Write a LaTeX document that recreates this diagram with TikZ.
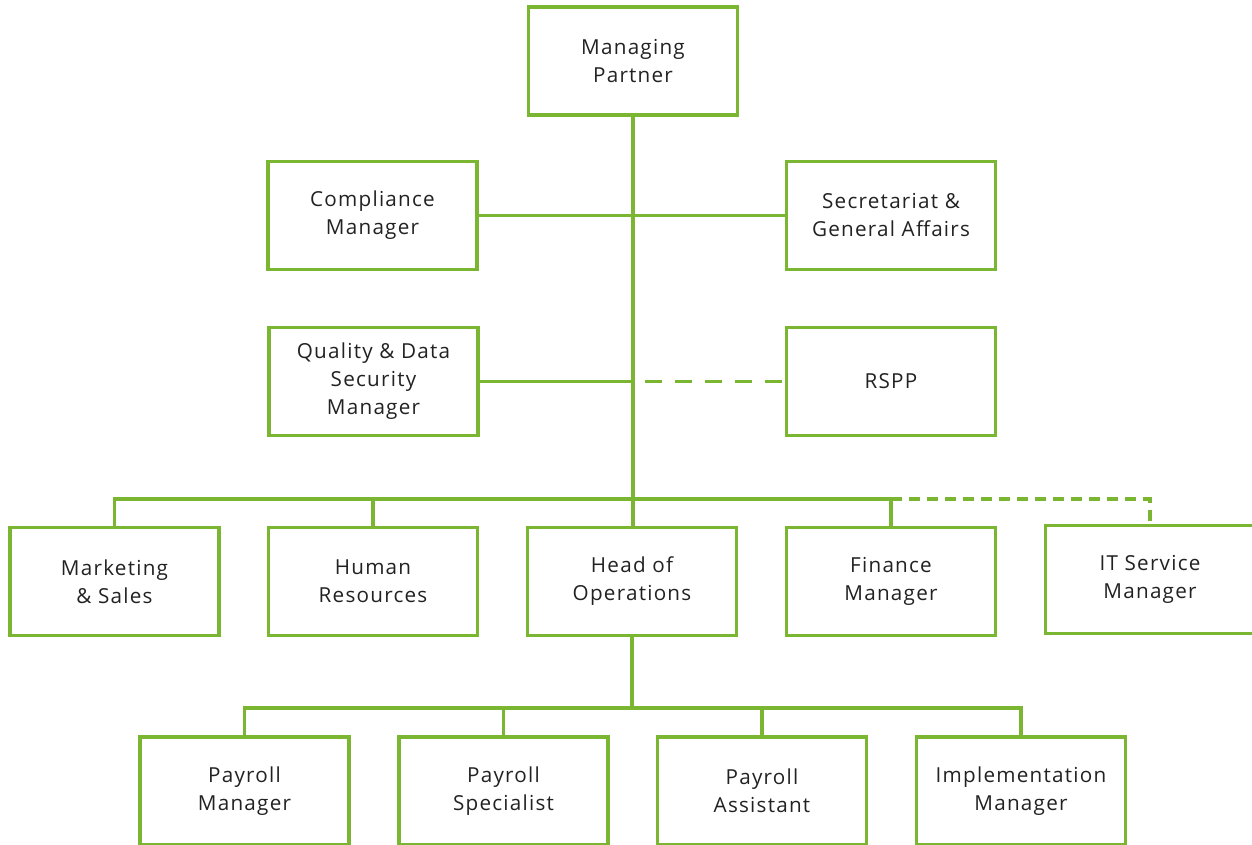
\documentclass[tikz,border=0pt]{standalone}
\usepackage{fontspec}
\setmainfont[LetterSpace=6]{Open Sans}
\usetikzlibrary{calc}
\definecolor{leaf}{RGB}{122,182,50}
\definecolor{ink}{RGB}{34,34,34}
\begin{document}
\begin{tikzpicture}[x=0.75pt,y=-0.75pt,
  unit/.style={draw=leaf,line width=2.3pt,fill=white,rectangle,
    minimum width=156.75pt,minimum height=81pt,inner sep=0pt,
    align=center,text=ink,font=\fontsize{15.5}{21}\selectfont},
  link/.style={draw=leaf,line width=2.3pt},
  trunk/.style={draw=leaf,line width=2.8pt},
  dotted link/.style={draw=leaf,line width=2.3pt,dash pattern=on 12.75pt off 9.75pt},
  bus dash/.style={draw=leaf,line width=2.3pt,dash pattern=on 8.5pt off 5pt}]
\useasboundingbox (0,0) rectangle (1252,845);
\clip (0,0) rectangle (1252,845);

% bus levels
\coordinate (b1) at (0,499);
\coordinate (b2) at (0,708);

% positions
\node[unit] (mp) at (633,61) {Managing\\Partner};
\node[unit] (cm) at (372.5,215.5) {Compliance\\Manager};
\node[unit] (sec) at (891,215.5) {Secretariat \&\\General Affairs};
\node[unit] (qd) at (373.5,381.5) {Quality \& Data\\Security\\Manager};
\node[unit] (rspp) at (891,381.5) {RSPP};
\node[unit] (mkt) at (114.5,581.5) {Marketing\\\& Sales};
\node[unit] (hr) at (373,581.5) {Human\\Resources};
\node[unit] (ops) at (632,581.5) {Head of\\Operations};
\node[unit] (fin) at (891,581.5) {Finance\\Manager};
\node[unit] (it) at (1150,579.5) {IT Service\\Manager};
\node[unit] (pm) at (244.5,791) {Payroll\\Manager};
\node[unit] (ps) at (503.5,791) {Payroll\\Specialist};
\node[unit] (pa) at (762,791) {Payroll\\Assistant};
\node[unit] (im) at (1021,791) {Implementation\\Manager};

% staff functions
\draw[link] (cm.east) -- (sec.west);
\draw[link] (qd.east) -- (qd.east -| mp.south);
\draw[dotted link] ($(qd.east -| mp.south)+(9pt,0)$) -- (rspp.west);

% department bus
\draw[link] (mkt.north) -- (mkt.north |- b1) -- (fin.north |- b1) -- (fin.north);
\draw[link] (hr.north) -- (hr.north |- b1);
\draw[bus dash] (fin.north |- b1) -- (it.north |- b1) -- (it.north);

% main trunk
\draw[trunk] (mp.south) -- (mp.south |- ops.north);

% operations team
\draw[link] (ops.south) -- (ops.south |- b2);
\draw[link] (pm.north) -- (pm.north |- b2) -- (im.north |- b2) -- (im.north);
\draw[link] (ps.north) -- (ps.north |- b2);
\draw[link] (pa.north) -- (pa.north |- b2);
\end{tikzpicture}
\end{document}
